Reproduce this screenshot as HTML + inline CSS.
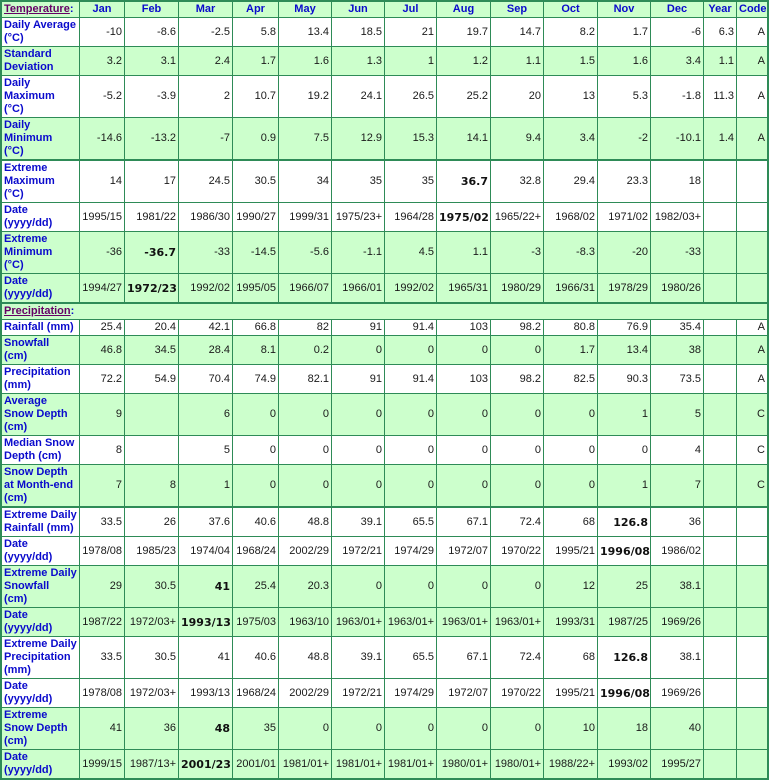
<!DOCTYPE html>
<html><head><meta charset="utf-8">
<style>
html,body{margin:0;padding:0;background:#fff;}
table{border-collapse:separate;border-spacing:0;table-layout:fixed;width:769px;border:2px solid #2e8b57;font-family:"Liberation Sans",sans-serif;font-size:11px;}
td{box-sizing:border-box;border-right:1px solid #2e8b57;border-bottom:1px solid #2e8b57;padding:1px 2px;line-height:13px;text-align:right;vertical-align:middle;color:#1a1a1a;white-space:nowrap;overflow:hidden;background:#fff;}
td:last-child{border-right:none;}
tr:last-child td{border-bottom:none;}
tr.g td{background:#ccffcc;}
tr.t td{border-bottom:2px solid #2e8b57;}
td.l{text-align:left;font-weight:bold;color:#0a0acc;}
tr.h td{text-align:center;font-weight:bold;color:#0a0acc;}
tr.h td.l{text-align:left;}
.p{color:#660066;text-decoration:underline;}
td.b{font-family:"DejaVu Sans",sans-serif;font-weight:bold;color:#111;}
</style></head><body>
<table>
<tr class="g h"><td class="l" style="width:78px"><span class="p">Temperature</span>:</td><td style="width:45px">Jan</td><td style="width:54px">Feb</td><td style="width:54px">Mar</td><td style="width:46px">Apr</td><td style="width:53px">May</td><td style="width:53px">Jun</td><td style="width:52px">Jul</td><td style="width:54px">Aug</td><td style="width:53px">Sep</td><td style="width:54px">Oct</td><td style="width:53px">Nov</td><td style="width:53px">Dec</td><td style="width:33px">Year</td><td style="width:30px">Code</td></tr>
<tr><td class="l">Daily Average<br>(°C)</td><td>-10</td><td>-8.6</td><td>-2.5</td><td>5.8</td><td>13.4</td><td>18.5</td><td>21</td><td>19.7</td><td>14.7</td><td>8.2</td><td>1.7</td><td>-6</td><td>6.3</td><td>A</td></tr>
<tr class="g"><td class="l">Standard<br>Deviation</td><td>3.2</td><td>3.1</td><td>2.4</td><td>1.7</td><td>1.6</td><td>1.3</td><td>1</td><td>1.2</td><td>1.1</td><td>1.5</td><td>1.6</td><td>3.4</td><td>1.1</td><td>A</td></tr>
<tr><td class="l">Daily<br>Maximum<br>(°C)</td><td>-5.2</td><td>-3.9</td><td>2</td><td>10.7</td><td>19.2</td><td>24.1</td><td>26.5</td><td>25.2</td><td>20</td><td>13</td><td>5.3</td><td>-1.8</td><td>11.3</td><td>A</td></tr>
<tr class="g t"><td class="l">Daily<br>Minimum<br>(°C)</td><td>-14.6</td><td>-13.2</td><td>-7</td><td>0.9</td><td>7.5</td><td>12.9</td><td>15.3</td><td>14.1</td><td>9.4</td><td>3.4</td><td>-2</td><td>-10.1</td><td>1.4</td><td>A</td></tr>
<tr><td class="l">Extreme<br>Maximum<br>(°C)</td><td>14</td><td>17</td><td>24.5</td><td>30.5</td><td>34</td><td>35</td><td>35</td><td class="b">36.7</td><td>32.8</td><td>29.4</td><td>23.3</td><td>18</td><td></td><td></td></tr>
<tr><td class="l">Date<br>(yyyy/dd)</td><td>1995/15</td><td>1981/22</td><td>1986/30</td><td>1990/27</td><td>1999/31</td><td>1975/23+</td><td>1964/28</td><td class="b">1975/02</td><td>1965/22+</td><td>1968/02</td><td>1971/02</td><td>1982/03+</td><td></td><td></td></tr>
<tr class="g"><td class="l">Extreme<br>Minimum<br>(°C)</td><td>-36</td><td class="b">-36.7</td><td>-33</td><td>-14.5</td><td>-5.6</td><td>-1.1</td><td>4.5</td><td>1.1</td><td>-3</td><td>-8.3</td><td>-20</td><td>-33</td><td></td><td></td></tr>
<tr class="g t"><td class="l">Date<br>(yyyy/dd)</td><td>1994/27</td><td class="b">1972/23</td><td>1992/02</td><td>1995/05</td><td>1966/07</td><td>1966/01</td><td>1992/02</td><td>1965/31</td><td>1980/29</td><td>1966/31</td><td>1978/29</td><td>1980/26</td><td></td><td></td></tr>
<tr class="g h"><td class="l" colspan="15"><span class="p">Precipitation</span>:</td></tr>
<tr><td class="l">Rainfall (mm)</td><td>25.4</td><td>20.4</td><td>42.1</td><td>66.8</td><td>82</td><td>91</td><td>91.4</td><td>103</td><td>98.2</td><td>80.8</td><td>76.9</td><td>35.4</td><td></td><td>A</td></tr>
<tr class="g"><td class="l">Snowfall<br>(cm)</td><td>46.8</td><td>34.5</td><td>28.4</td><td>8.1</td><td>0.2</td><td>0</td><td>0</td><td>0</td><td>0</td><td>1.7</td><td>13.4</td><td>38</td><td></td><td>A</td></tr>
<tr><td class="l">Precipitation<br>(mm)</td><td>72.2</td><td>54.9</td><td>70.4</td><td>74.9</td><td>82.1</td><td>91</td><td>91.4</td><td>103</td><td>98.2</td><td>82.5</td><td>90.3</td><td>73.5</td><td></td><td>A</td></tr>
<tr class="g"><td class="l">Average<br>Snow Depth<br>(cm)</td><td>9</td><td></td><td>6</td><td>0</td><td>0</td><td>0</td><td>0</td><td>0</td><td>0</td><td>0</td><td>1</td><td>5</td><td></td><td>C</td></tr>
<tr><td class="l">Median Snow<br>Depth (cm)</td><td>8</td><td></td><td>5</td><td>0</td><td>0</td><td>0</td><td>0</td><td>0</td><td>0</td><td>0</td><td>0</td><td>4</td><td></td><td>C</td></tr>
<tr class="g t"><td class="l">Snow Depth<br>at Month-end<br>(cm)</td><td>7</td><td>8</td><td>1</td><td>0</td><td>0</td><td>0</td><td>0</td><td>0</td><td>0</td><td>0</td><td>1</td><td>7</td><td></td><td>C</td></tr>
<tr><td class="l">Extreme Daily<br>Rainfall (mm)</td><td>33.5</td><td>26</td><td>37.6</td><td>40.6</td><td>48.8</td><td>39.1</td><td>65.5</td><td>67.1</td><td>72.4</td><td>68</td><td class="b">126.8</td><td>36</td><td></td><td></td></tr>
<tr><td class="l">Date<br>(yyyy/dd)</td><td>1978/08</td><td>1985/23</td><td>1974/04</td><td>1968/24</td><td>2002/29</td><td>1972/21</td><td>1974/29</td><td>1972/07</td><td>1970/22</td><td>1995/21</td><td class="b">1996/08</td><td>1986/02</td><td></td><td></td></tr>
<tr class="g"><td class="l">Extreme Daily<br>Snowfall<br>(cm)</td><td>29</td><td>30.5</td><td class="b">41</td><td>25.4</td><td>20.3</td><td>0</td><td>0</td><td>0</td><td>0</td><td>12</td><td>25</td><td>38.1</td><td></td><td></td></tr>
<tr class="g"><td class="l">Date<br>(yyyy/dd)</td><td>1987/22</td><td>1972/03+</td><td class="b">1993/13</td><td>1975/03</td><td>1963/10</td><td>1963/01+</td><td>1963/01+</td><td>1963/01+</td><td>1963/01+</td><td>1993/31</td><td>1987/25</td><td>1969/26</td><td></td><td></td></tr>
<tr><td class="l">Extreme Daily<br>Precipitation<br>(mm)</td><td>33.5</td><td>30.5</td><td>41</td><td>40.6</td><td>48.8</td><td>39.1</td><td>65.5</td><td>67.1</td><td>72.4</td><td>68</td><td class="b">126.8</td><td>38.1</td><td></td><td></td></tr>
<tr><td class="l">Date<br>(yyyy/dd)</td><td>1978/08</td><td>1972/03+</td><td>1993/13</td><td>1968/24</td><td>2002/29</td><td>1972/21</td><td>1974/29</td><td>1972/07</td><td>1970/22</td><td>1995/21</td><td class="b">1996/08</td><td>1969/26</td><td></td><td></td></tr>
<tr class="g"><td class="l">Extreme<br>Snow Depth<br>(cm)</td><td>41</td><td>36</td><td class="b">48</td><td>35</td><td>0</td><td>0</td><td>0</td><td>0</td><td>0</td><td>10</td><td>18</td><td>40</td><td></td><td></td></tr>
<tr class="g"><td class="l">Date<br>(yyyy/dd)</td><td>1999/15</td><td>1987/13+</td><td class="b">2001/23</td><td>2001/01</td><td>1981/01+</td><td>1981/01+</td><td>1981/01+</td><td>1980/01+</td><td>1980/01+</td><td>1988/22+</td><td>1993/02</td><td>1995/27</td><td></td><td></td></tr>
</table>
</body></html>
